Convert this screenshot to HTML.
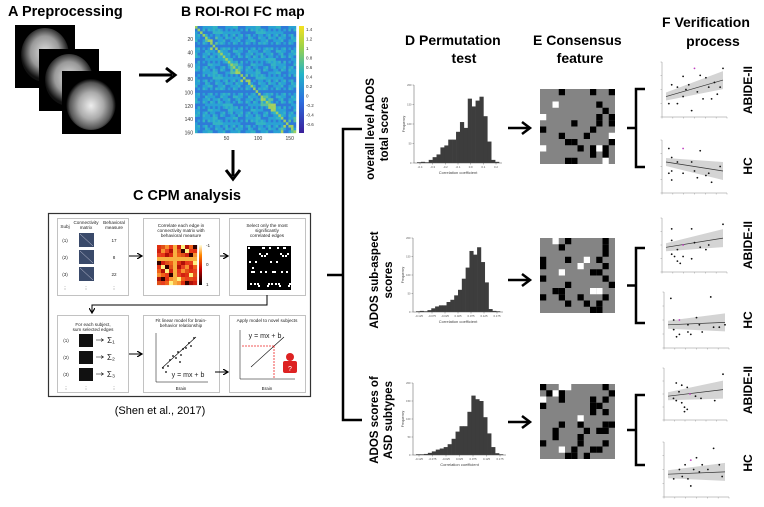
<!DOCTYPE html>
<html><head><meta charset="utf-8">
<style>
html,body{margin:0;padding:0;background:#fff;}
body{width:764px;height:502px;overflow:hidden;font-family:"Liberation Sans",sans-serif;}
svg text{font-family:"Liberation Sans",sans-serif;}
</style></head>
<body>
<svg id="fig" width="764" height="502" viewBox="0 0 764 502" xmlns="http://www.w3.org/2000/svg">
<defs>
<radialGradient id="brain1" cx="50%" cy="45%" r="50%"><stop offset="0" stop-color="#ddd"/><stop offset="0.6" stop-color="#999"/><stop offset="1" stop-color="#111"/></radialGradient>
<radialGradient id="brain3" cx="50%" cy="55%" r="50%"><stop offset="0" stop-color="#eee"/><stop offset="0.5" stop-color="#aaa"/><stop offset="0.85" stop-color="#555"/><stop offset="1" stop-color="#000"/></radialGradient>
<linearGradient id="cbar" x1="0" y1="1" x2="0" y2="0"><stop offset="0" stop-color="#3b1f9a"/><stop offset="0.3" stop-color="#2d6fe0"/><stop offset="0.55" stop-color="#22b4c8"/><stop offset="0.8" stop-color="#9bd24a"/><stop offset="1" stop-color="#f5e11f"/></linearGradient>
<linearGradient id="hot" x1="0" y1="1" x2="0" y2="0"><stop offset="0" stop-color="#000"/><stop offset="0.4" stop-color="#c00"/><stop offset="0.75" stop-color="#f80"/><stop offset="1" stop-color="#ffd"/></linearGradient>
<marker id="ah" markerWidth="6" markerHeight="6" refX="4" refY="3" orient="auto"><path d="M0,0 L5,3 L0,6" fill="none" stroke="#000" stroke-width="1.2"/></marker>
</defs>

<!-- Panel A -->
<text x="8" y="16" font-size="14.5" font-weight="bold">A  Preprocessing</text>
<g>
<rect x="15" y="25" width="60" height="63" fill="#000"/>
<ellipse cx="45" cy="55" rx="24" ry="27" fill="url(#brain1)"/>
<rect x="39" y="49" width="60" height="62" fill="#000"/>
<ellipse cx="69" cy="80" rx="24" ry="26" fill="url(#brain1)"/>
<rect x="62" y="71" width="59" height="63" fill="#000"/>
<ellipse cx="91" cy="103" rx="25" ry="27" fill="url(#brain3)"/>
</g>
<line x1="139" y1="75" x2="172" y2="75" stroke="#000" stroke-width="3"/>
<path d="M166,68 L175,75 L166,82" fill="none" stroke="#000" stroke-width="3"/>

<!-- Panel B -->
<text x="181" y="16" font-size="14" font-weight="bold">B  ROI-ROI FC map</text>
<g id="fcmap"></g>
<rect x="299" y="26" width="5" height="107" fill="url(#cbar)"/>
<g id="cbticks" font-size="4.5" fill="#333"></g>
<g id="fcticks" font-size="5" fill="#333"></g>
<line x1="233" y1="150" x2="233" y2="176" stroke="#000" stroke-width="3"/>
<path d="M226,170 L233,179 L240,170" fill="none" stroke="#000" stroke-width="3"/>

<!-- Panel C -->
<text x="133" y="200" font-size="14.5" font-weight="bold">C  CPM analysis</text>
<rect x="48.5" y="213.5" width="262" height="183" fill="#fff" stroke="#333" stroke-width="1.2"/>
<g id="cpm" font-size="4.6" fill="#222"></g>
<text x="160" y="414" font-size="11" text-anchor="middle">(Shen et al., 2017)</text>

<!-- Big bracket -->
<g stroke="#000" stroke-width="2.5" fill="none">
<path d="M362,129 L343,129 L343,420 L362,420"/>
<line x1="327" y1="275" x2="343" y2="275"/>
</g>

<!-- Row labels -->
<text transform="translate(374,129) rotate(-90)" font-size="11.5" font-weight="bold" text-anchor="middle"><tspan x="0" y="0">overall level ADOS</tspan><tspan x="0" y="14">total scores</tspan></text>
<text transform="translate(378,280) rotate(-90)" font-size="11.5" font-weight="bold" text-anchor="middle"><tspan x="0" y="0">ADOS sub-aspect</tspan><tspan x="0" y="14">scores</tspan></text>
<text transform="translate(378,420) rotate(-90)" font-size="11.5" font-weight="bold" text-anchor="middle"><tspan x="0" y="0">ADOS  scores of</tspan><tspan x="0" y="14">ASD subtypes</tspan></text>

<!-- Column titles -->
<text x="405" y="45" font-size="14" font-weight="bold">D  Permutation</text>
<text x="464" y="63" font-size="14" font-weight="bold" text-anchor="middle">test</text>
<text x="533" y="45" font-size="14" font-weight="bold">E  Consensus</text>
<text x="580" y="63" font-size="14" font-weight="bold" text-anchor="middle">feature</text>
<text x="662" y="27" font-size="14" font-weight="bold">F  Verification</text>
<text x="713" y="46" font-size="14" font-weight="bold" text-anchor="middle">process</text>

<g id="rows"></g>
</svg>

<script>
// ---------- data ----------
const hist1 = [2,3,2,8,15,22,40,45,60,60,80,105,90,165,145,160,170,120,55,8,3];
const hist2 = [2,3,2,5,10,15,18,18,27,33,45,60,90,120,165,155,175,135,80,8,3,2];
const hist3 = [2,2,3,6,10,15,18,22,30,45,65,80,80,120,165,155,150,105,60,22,5,2];
const hist1Ticks = ["-0.4","-0.3","-0.2","-0.1","0.0","0.1","0.2"];
const hist2Ticks = ["-0.125","-0.075","-0.025","0.025","0.075","0.125","0.175"];
const hist3Ticks = ["-0.125","-0.075","-0.025","0.025","0.075","0.125","0.175"];
const histYTicks = [0,50,100,150,200];
const scatA1 = [[0.1,0.6],[0.3,0.35],[0.2,0.2],[0.5,0.95],[1.0,0.95],[0.35,0.5],[0.6,0.8],[0.7,0.75],[0.9,0.4],[0.55,0.45],[0.45,0.05],[0.3,0.78],[0.75,0.55],[0.85,0.65],[0.65,0.3],[0.2,0.55],[0.05,0.2],[0.8,0.3],[0.4,0.6],[0.95,0.55]];
const scatB1 = [[0.05,0.9],[0.1,0.7],[0.2,0.6],[0.3,0.9],[0.45,0.6],[0.6,0.85],[0.1,0.4],[0.05,0.35],[0.3,0.35],[0.5,0.4],[0.7,0.3],[0.8,0.15],[0.95,0.5],[0.1,0.2],[0.55,0.25],[0.75,0.35]];
const scatA2 = [[0.1,0.85],[0.1,0.6],[0.2,0.4],[0.3,0.5],[0.45,0.85],[0.5,0.55],[0.6,0.45],[0.1,0.3],[0.15,0.25],[0.3,0.25],[0.45,0.2],[0.7,0.4],[1.0,0.95],[0.75,0.5],[0.2,0.15],[0.25,0.1]];
const scatB2 = [[0.05,0.95],[0.75,0.98],[0.1,0.5],[0.2,0.5],[0.5,0.55],[0.35,0.4],[0.55,0.4],[0.8,0.35],[0.1,0.3],[0.2,0.2],[0.35,0.25],[0.4,0.2],[0.6,0.25],[0.9,0.35],[1.0,0.4],[0.15,0.15]];
const scatA3 = [[0.15,0.75],[0.25,0.7],[0.35,0.65],[0.4,0.5],[0.5,0.45],[0.1,0.4],[0.15,0.35],[0.25,0.3],[0.3,0.2],[0.35,0.15],[0.6,0.4],[0.85,0.35],[1.0,0.95],[0.2,0.55],[0.3,0.1]];
const scatB3 = [[0.1,0.3],[0.2,0.5],[0.3,0.6],[0.4,0.7],[0.5,0.75],[0.6,0.6],[0.8,0.95],[0.25,0.35],[0.45,0.5],[0.55,0.45],[0.7,0.5],[0.9,0.6],[0.95,0.35],[0.35,0.3],[0.4,0.15]];
const fitA1=[0.35,0.7], fitB1=[0.6,0.4], fitA2=[0.45,0.65], fitB2=[0.4,0.45], fitA3=[0.45,0.6], fitB3=[0.4,0.45];
const mat1 = ["...#....#..X","............","..W......X..","..........#.","W........#.#",".....#...#.#","#.......#...","...#...#...W","....##.....#","W.....#.#W#.","........X.#.","....##....W."];
const mat2 = ["..W.#.....#.","...#......#.","..........#.","#...#..W.#..","#.....W...#.","...W....##..","#.........#.","....#......#","..##....WW..","#..#..#...#.","....#..#.#..","........##.."];
const mat3 = ["#..WW.....#.",".#W#.......#","W..#....#.#.","#.......##..","........#.#.","......W.....","...#..#...##","..#....#.##.","..#...#.....","#.....#...#.","...W.#..##..","....##.#...."];

const NS="http://www.w3.org/2000/svg";
function mk(tag, attrs, parent){const e=document.createElementNS(NS,tag);for(const k in attrs)e.setAttribute(k,attrs[k]);parent.appendChild(e);return e;}

// ---------- FC heatmap (texture) ----------
(function(){
  const g=document.getElementById('fcmap');
  const x0=195,y0=26,w=101,h=107,n=40;
  mk('rect',{x:x0,y:y0,width:w,height:h,fill:'#2aa0d8'},g);
  const blocks=[[4,8],[14,17],[18,21],[26,31],[34,39]];
  for(let i=0;i<n;i++)for(let j=0;j<n;j++){
    const v=((i*37+j*53+i*j*7)%17)/17;
    let col=v<0.3?'#2f7ad8':(v<0.75?'#2aa2d4':'#34b4c4');
    for(const b of blocks){if(i>=b[0]&&i<=b[1]&&j>=b[0]&&j<=b[1]&&v>0.55)col=v>0.85?'#a8d060':'#58c0a0';}
    if(i===j)col='#9cd060';
    mk('rect',{x:x0+j*w/n,y:y0+i*h/n,width:w/n+0.2,height:h/n+0.2,fill:col},g);
  }
  const ft=document.getElementById('fcticks');
  [20,40,60,80,100,120,140,160].forEach((v,k)=>{const t=mk('text',{x:193,y:y0+v/160*h+1.5,'text-anchor':'end'},ft);t.textContent=v;});
  [50,100,150].forEach(v=>{const t=mk('text',{x:x0+v/160*w,y:140,'text-anchor':'middle'},ft);t.textContent=v;});
  const ct=document.getElementById('cbticks');
  ["1.4","1.2","1","0.8","0.6","0.4","0.2","0","-0.2","-0.4","-0.6"].forEach((v,k)=>{const t=mk('text',{x:306,y:31+k*9.5},ct);t.textContent=v;});
})();

// ---------- CPM panels ----------
(function(){
  const g=document.getElementById('cpm');
  const cols=[57,143,229], rows=[218,315], pw=[71,76,76];
  rows.forEach(ry=>cols.forEach((cx,i)=>{mk('rect',{x:cx+0.5,y:ry+0.5,width:pw[i],height:77,fill:'#fff',stroke:'#999','stroke-width':0.6},g);}));
  function txt(x,y,s,a){const t=mk('text',{x:x,y:y,'text-anchor':a||'middle'},g);t.textContent=s;return t;}
  txt(65,228,'Subj');txt(86,224,'Connectivity');txt(86,229,'matrix');txt(114,224,'Behavioral');txt(114,229,'measure');
  [['(1)',17],['(2)',8],['(3)',22]].forEach((r,k)=>{const y=240+k*17;txt(65,y+2,r[0]);txt(114,y+2,r[1]);
    mk('rect',{x:79,y:y-7,width:15,height:14,fill:'#3a4a6a'},g);mk('line',{x1:80,y1:y-6,x2:93,y2:y+6,stroke:'#ccd','stroke-width':0.5},g);});
  txt(65,290,'⋮');txt(86,290,'⋮');txt(114,290,'⋮');
  txt(181,227,'Correlate each edge in');txt(181,232,'connectivity matrix with');txt(181,237,'behavioral measure');
  for(let i=0;i<10;i++)for(let j=0;j<10;j++){const v=(i*13+j*29+i*j*5)%11;const c=['#e03010','#f06018','#d02010','#f89030','#e84020','#b01008','#f8b040','#e05018','#300','#fff080','#e83818'][v];mk('rect',{x:157+j*4,y:245+i*4,width:4.1,height:4.1,fill:c},g);}
  mk('rect',{x:199,y:245,width:3,height:40,fill:'url(#hot)'},g);
  txt(206,247,'-1','start');txt(206,266,'0','start');txt(206,286,'1','start');
  txt(267,227,'Select only the most');txt(267,232,'significantly');txt(267,237,'correlated edges');
  mk('rect',{x:247,y:246,width:44,height:44,fill:'#000'},g);
  for(let k=0;k<40;k++){const x=248+((k*17)%42),y=247+((k*23+k*k)%42);mk('rect',{x:x,y:y,width:2,height:2,fill:'#fff'},g);}
  txt(93,326,'For each subject,');txt(93,331,'sum selected edges');
  [['(1)','Σ₁'],['(2)','Σ₂'],['(3)','Σ₃']].forEach((r,k)=>{const y=340+k*17;txt(66,y+2,r[0]);mk('rect',{x:79,y:y-6,width:14,height:13,fill:'#111'},g);
    mk('line',{x1:96,y1:y,x2:103,y2:y,stroke:'#000','stroke-width':0.5,'marker-end':'url(#ah)'},g);const t=txt(111,y+3,r[1]);t.setAttribute('font-size','8');});
  txt(66,390,'⋮');txt(86,390,'⋮');txt(114,390,'⋮');
  txt(181,322,'Fit linear model for brain-');txt(181,327,'behavior relationship');
  mk('path',{d:'M156,333 L156,382 L208,382',fill:'none',stroke:'#000','stroke-width':0.5},g);
  mk('line',{x1:162,y1:368,x2:196,y2:337,stroke:'#000','stroke-width':0.6},g);
  [[163,368],[166,372],[170,360],[173,356],[176,358],[178,352],[181,355],[183,349],[186,348],[189,343],[191,346],[194,338],[168,366],[180,362]].forEach(p=>mk('circle',{cx:p[0],cy:p[1],r:0.9,fill:'#000'},g));
  const e=txt(188,377,'y = mx + b');e.setAttribute('font-size','7');
  txt(181,390,'Brain');
  txt(267,322,'Apply model to novel subjects');
  mk('path',{d:'M240,330 L240,379 L295,379',fill:'none',stroke:'#000','stroke-width':0.5},g);
  mk('line',{x1:251,y1:367,x2:284,y2:337,stroke:'#000','stroke-width':0.6},g);
  mk('path',{d:'M274,346 L241,346 M274,346 L274,379',fill:'none',stroke:'#e22','stroke-width':0.8,'stroke-dasharray':'2,1'},g);
  const e2=txt(265,338,'y = mx + b');e2.setAttribute('font-size','7');
  txt(267,390,'Brain');
  mk('circle',{cx:290,cy:357,r:4,fill:'#d22'},g);mk('rect',{x:283,y:361,width:14,height:12,rx:2,fill:'#d22'},g);
  const q=txt(290,371,'?');q.setAttribute('fill','#fff');q.setAttribute('font-size','7');
  [[129,256,141,256],[220,256,227,256],[215,372,227,372],[129,354,141,354]].forEach(a=>mk('line',{x1:a[0],y1:a[1],x2:a[2],y2:a[3],stroke:'#000','stroke-width':1,'marker-end':'url(#ah)'},g));
  mk('path',{d:'M267,295 L267,305 L92,305 L92,312',fill:'none',stroke:'#000','stroke-width':1,'marker-end':'url(#ah)'},g);
})();

// ---------- Rows D/E/F ----------
const rowsG=document.getElementById('rows');
function histogram(vals,ticks,box,name){
  const g=mk('g',{},rowsG);
  
  
  const [x0,y0,x1,y1]=box, maxY=200;
  const xs=i=>x0+3+i*(x1-x0-6)/vals.length, ys=v=>y1-v/maxY*(y1-y0);
  const bw=(x1-x0-6)/vals.length;
  vals.forEach((v,i)=>{const r=mk('rect',{x:xs(i),y:ys(v),width:bw+0.3,height:y1-ys(v),fill:'#3d3d3d'},g);
    
    });
  mk('path',{d:`M${x0},${y0} L${x0},${y1} L${x1},${y1}`,fill:'none',stroke:'#555','stroke-width':0.5},g);
  histYTicks.forEach(v=>{mk('line',{x1:x0-1.5,y1:ys(v),x2:x0,y2:ys(v),stroke:'#555','stroke-width':0.4},g);const t=mk('text',{x:x0-2.5,y:ys(v)+1,'font-size':2.6,'text-anchor':'end',fill:'#555'},g);t.textContent=v;});
  ticks.forEach((s,i)=>{const x=x0+6+i*(x1-x0-12)/(ticks.length-1);mk('line',{x1:x,y1:y1,x2:x,y2:y1+1.5,stroke:'#555','stroke-width':0.4},g);const t=mk('text',{x:x,y:y1+5,'font-size':2.8,'text-anchor':'middle',fill:'#555'},g);t.textContent=s;});
  const xl=mk('text',{x:(x0+x1)/2,y:y1+11,'font-size':4,'text-anchor':'middle',fill:'#444'},g);xl.textContent='Correlation coefficient';
  const yl=mk('text',{transform:`translate(${x0-9},${(y0+y1)/2}) rotate(-90)`,'font-size':3.5,'text-anchor':'middle',fill:'#444'},g);yl.textContent='Frequency';
}
function matrix(rows,box,name){
  const g=mk('g',{},rowsG);
  
  
  const [x0,y0,s]=box, n=rows.length, c=s/n;
  mk('rect',{x:x0,y:y0,width:s,height:s,fill:'#848484'},g);
  rows.forEach((r,i)=>[...r].forEach((ch,j)=>{if(ch==='.')return;mk('rect',{x:x0+j*c,y:y0+i*c,width:c,height:c,fill:ch==='W'?'#fff':'#000'},g);}));
}
function scatter(pts,fit,box,name){
  const g=mk('g',{},rowsG);
  
  
  const [x0,y0,x1,y1]=box;
  const sx=v=>x0+4+v*(x1-x0-8), sy=v=>y1-4-v*(y1-y0-8);
  const a=fit[0],b=fit[1];
  mk('path',{d:`M${sx(0)},${sy(a)-4} L${sx(1)},${sy(b)-9} L${sx(1)},${sy(b)+9} L${sx(0)},${sy(a)+4} Z`,fill:'#d4d4d4'},g);
  mk('line',{x1:sx(0),y1:sy(a),x2:sx(1),y2:sy(b),stroke:'#333','stroke-width':0.7},g);
  mk('path',{d:`M${x0},${y0} L${x0},${y1} L${x1},${y1}`,fill:'none',stroke:'#888','stroke-width':0.5},g);
  for(let k=0;k<=6;k++){const x=x0+k*(x1-x0)/6;mk('line',{x1:x,y1:y1,x2:x,y2:y1+1.5,stroke:'#888','stroke-width':0.4},g);}
  for(let k=0;k<=4;k++){const y=y1-k*(y1-y0)/4;mk('line',{x1:x0-1.5,y1:y,x2:x0,y2:y,stroke:'#888','stroke-width':0.4},g);}
  pts.forEach((p,i)=>{const c=mk('circle',{cx:sx(p[0]),cy:sy(p[1]),r:0.9,fill:i===3?'#c040c0':'#111'},g);
    
    });
}
function arrow(y){mk('line',{x1:508,y1:y,x2:528,y2:y,stroke:'#000','stroke-width':2.5},rowsG);mk('path',{d:`M522,${y-6} L530,${y} L522,${y+6}`,fill:'none',stroke:'#000','stroke-width':2.5},rowsG);}
function bracket(y0,y1){const m=(y0+y1)/2;mk('path',{d:`M645,${y0} L636,${y0} L636,${y1} L645,${y1} M627,${m} L636,${m}`,fill:'none',stroke:'#000','stroke-width':2.5},rowsG);}
function label(x,y,s,name){const t=mk('text',{transform:`translate(${x},${y}) rotate(-90)`,'font-size':12,'font-weight':'bold','text-anchor':'middle'},rowsG);t.textContent=s;
  
  }

histogram(hist1,hist1Ticks,[414,85,502,163],'histogram-row1');
histogram(hist2,hist2Ticks,[413,238,503,312],'histogram-row2');
histogram(hist3,hist3Ticks,[413,383,506,455],'histogram-row3');
arrow(128);arrow(280);arrow(422);
matrix(mat1,[540,89,75],'consensus-matrix-row1');
matrix(mat2,[540,238,75],'consensus-matrix-row2');
matrix(mat3,[540,384,75],'consensus-matrix-row3');
bracket(89,167);bracket(248,323);bracket(395,465);
scatter(scatA1,fitA1,[662,62,727,117],'scatter-abide-row1');
scatter(scatB1,fitB1,[662,140,727,193],'scatter-hc-row1');
scatter(scatA2,fitA2,[662,218,727,272],'scatter-abide-row2');
scatter(scatB2,fitB2,[664,292,729,348],'scatter-hc-row2');
scatter(scatA3,fitA3,[664,368,727,420],'scatter-abide-row3');
scatter(scatB3,fitB3,[664,442,729,497],'scatter-hc-row3');
label(752,90,'ABIDE-II','label-abide-row1');label(752,166,'HC','label-hc-row1');
label(752,245,'ABIDE-II','label-abide-row2');label(752,320,'HC','label-hc-row2');
label(752,390,'ABIDE-II','label-abide-row3');label(752,463,'HC','label-hc-row3');
</script>
</body></html>
